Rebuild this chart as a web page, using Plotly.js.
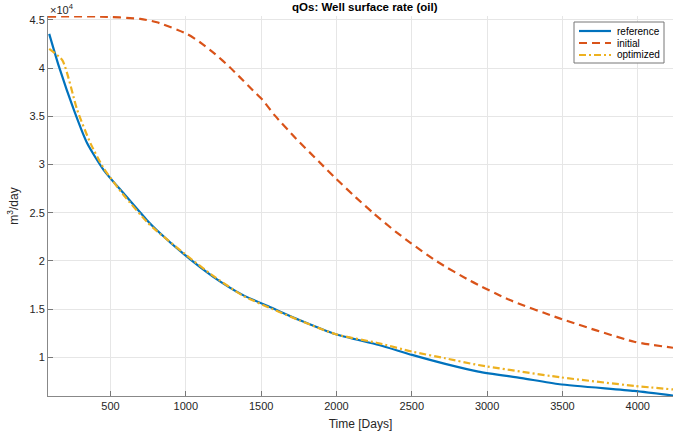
<!DOCTYPE html>
<html>
<head>
<meta charset="utf-8">
<script src="https://cdn.plot.ly/plotly-3.0.1.min.js"></script>
<style>html,body{margin:0;padding:0;background:#fff;}#chart{width:673px;height:434px;}</style>
</head>
<body>
<div id="chart"></div>
<script>
// Time [Days] and well surface rate (oil) [m3/day]
const refDays = [93, 159, 258, 346, 456, 588, 742, 808, 995, 1182, 1380, 1578, 1754, 1996, 2282, 2502, 2722, 2942, 3230, 3481, 3976, 4234];
const refRate = [43550, 40090, 35610, 32170, 29400, 26990, 24230, 23190, 20600, 18360, 16460, 15090, 13880, 12400, 11290, 10260, 9330, 8530, 7850, 7220, 6530, 6050];

const initDays = [85, 434, 698, 808, 1006, 1094, 1193, 1292, 1358, 1446, 1512, 1590, 1732, 1886, 1985, 2128, 2249, 2392, 2491, 2667, 2887, 3151, 3481, 3976, 4234];
const initRate = [45340, 45340, 45100, 44750, 43550, 42680, 41480, 40090, 39060, 37680, 36650, 35100, 32680, 30260, 28710, 26600, 24900, 23050, 21880, 19950, 17950, 15950, 14050, 11630, 11000];

const optDays = [93, 181, 280, 368, 456, 588, 742, 808, 995, 1182, 1380, 1578, 1754, 1996, 2282, 2502, 2722, 2942, 3481, 3976, 4234];
const optRate = [42000, 40790, 35610, 32170, 29580, 26820, 24050, 23100, 20700, 18450, 16400, 15000, 13850, 12400, 11470, 10600, 9910, 9210, 7950, 7050, 6680];

const seriesNames = ['reference', 'initial', 'optimized'];
const seriesColors = ['#0072BD', '#D95319', '#EDB120'];
const seriesDash = ['solid', '8px,5px', '7px,3px,2px,3px'];

const yTickVals = [10000, 15000, 20000, 25000, 30000, 35000, 40000, 45000];
const yTickText = ['1', '1.5', '2', '2.5', '3', '3.5', '4', '4.5'];
const xTickVals = [500, 1000, 1500, 2000, 2500, 3000, 3500, 4000];

const xs = [refDays, initDays, optDays];
const ys = [refRate, initRate, optRate];
const traces = seriesNames.map((n, i) => ({
  x: xs[i], y: ys[i], name: n, mode: 'lines', showlegend: false,
  line: {color: seriesColors[i], width: 2.2, dash: seriesDash[i], shape: 'spline', smoothing: 0.6}
}));

const font = {family: '"Liberation Sans", Arial, Helvetica, sans-serif', size: 11, color: '#262626'};

// plot area in px: left 48, top 16, width 625, height 380
const px = v => (v - 48) / 625;
const py = v => 1 - (v - 16) / 380;

const shapes = [
  {type: 'rect', xref: 'paper', yref: 'paper', x0: px(574), x1: px(664), y0: py(22), y1: py(63),
   fillcolor: '#fff', line: {color: '#777', width: 1}, layer: 'above'}
];
const annotations = [
  {text: '×10<sup>4</sup>', xref: 'paper', yref: 'paper', x: 0, y: 1, xanchor: 'left', yanchor: 'bottom',
   showarrow: false, font: {size: 11, color: '#262626'}, yshift: -2}
];
const rowY = [31, 43, 55];
seriesNames.forEach((n, i) => {
  shapes.push({type: 'line', xref: 'paper', yref: 'paper', x0: px(579), x1: px(611), y0: py(rowY[i]), y1: py(rowY[i]),
    line: {color: seriesColors[i], width: 2.2, dash: seriesDash[i]}, layer: 'above'});
  annotations.push({text: n, xref: 'paper', yref: 'paper', x: px(615), y: py(rowY[i]), xanchor: 'left', yanchor: 'middle',
    showarrow: false, font: {size: 10, color: '#000'}, xshift: 0});
});

const layout = {
  width: 673, height: 434,
  margin: {l: 48, r: 0, t: 16, b: 38, pad: 0},
  paper_bgcolor: '#fff', plot_bgcolor: '#fff',
  font: font,
  showlegend: false,
  title: {text: '<b>qOs: Well surface rate (oil)</b>', font: {family: font.family, size: 11.5, color: '#000'}, x: 0.542, xanchor: 'center', y: 0.984, yanchor: 'middle'},
  xaxis: {
    range: [85, 4234], tickvals: xTickVals, ticktext: xTickVals.map(String),
    ticks: 'inside', ticklen: 5, tickcolor: '#777', showline: true, linecolor: '#888', linewidth: 1,
    showgrid: true, gridcolor: '#e6e6e6', gridwidth: 1, zeroline: false,
    title: {text: 'Time [Days]', font: {size: 12, color: '#262626'}, standoff: 8},
    tickfont: {size: 11, color: '#262626'}
  },
  yaxis: {
    range: [6000, 45400], tickvals: yTickVals, ticktext: yTickText,
    ticks: 'inside', ticklen: 5, tickcolor: '#777', showline: true, linecolor: '#888', linewidth: 1,
    showgrid: true, gridcolor: '#e6e6e6', gridwidth: 1, zeroline: false,
    title: {text: 'm<sup>3</sup>/day', font: {size: 12, color: '#262626'}, standoff: 8},
    tickfont: {size: 11, color: '#262626'}
  },
  shapes: shapes,
  annotations: annotations
};

Plotly.newPlot('chart', traces, layout, {displayModeBar: false, staticPlot: true});
</script>
</body>
</html>
